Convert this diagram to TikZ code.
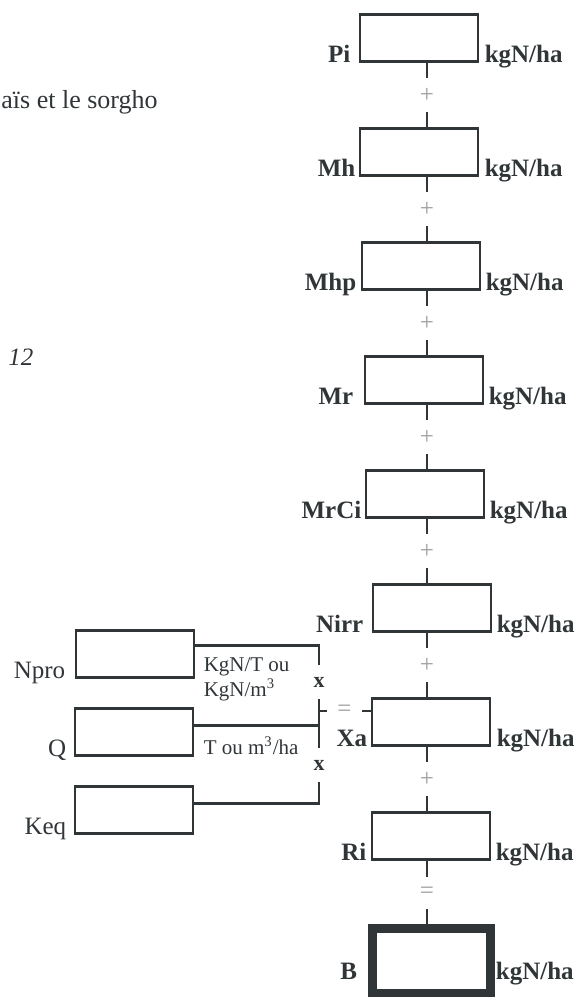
\documentclass[tikz,border=0pt]{standalone}
\usepackage{fontspec}
\setmainfont{Liberation Serif}
\definecolor{encre}{RGB}{48,53,56}
\definecolor{signgray}{gray}{0.62}

\begin{document}
\begin{tikzpicture}[x=0.5pt,y=-0.5pt,color=encre,
  boite/.style={draw,line width=1.35pt,minimum width=59pt,minimum height=23.5pt,inner sep=0pt},
  nom/.style={anchor=base east,inner sep=0pt,font=\fontsize{12.5}{14}\selectfont\bfseries},
  nomg/.style={anchor=base east,inner sep=0pt,font=\fontsize{12.5}{14}\selectfont},
  unite/.style={anchor=base west,inner sep=0pt,font=\fontsize{12.5}{14}\selectfont\bfseries},
  petit/.style={inner sep=0pt,font=\fontsize{10.5}{12.5}\selectfont},
  signe/.style={inner sep=0pt,minimum height=17pt,text=signgray,font=\fontsize{12.5}{14}\selectfont},
  fois/.style={inner sep=0pt,minimum height=17pt,font=\fontsize{11}{13}\selectfont\bfseries},
  lien/.style={line width=1.35pt}]
\useasboundingbox (0,0) rectangle (582,997);
%% texte de la page
\node[anchor=base west,inner sep=0pt,font=\fontsize{13}{15}\selectfont] (titre) at (1,108) {aïs et le sorgho};
\node[anchor=base west,inner sep=0pt,font=\fontsize{12.5}{14}\selectfont\itshape] (num) at (8,365) {12};
%% colonne du bilan
\node[boite] (pi) at (419,38) {};
\node[boite] (mh) at (419,152) {};
\node[boite] (mhp) at (421,266) {};
\node[boite] (mr) at (424,380) {};
\node[boite] (mrci) at (425,494) {};
\node[boite] (nirr) at (432,608) {};
\node[boite] (xa) at (431,722) {};
\node[boite] (ri) at (431,836) {};
\node[boite,line width=4.5pt,minimum height=32.5pt] (bilan) at (431,961) {};
%%
\node[nom] (pi-nom) at ([xshift=-4pt]pi.south west) {Pi};
\node[nom] (mh-nom) at ([xshift=-1.5pt]mh.south west) {Mh};
\node[nom] (mhp-nom) at ([xshift=-2pt]mhp.south west) {Mhp};
\node[nom] (mr-nom) at ([xshift=-5pt]mr.south west) {Mr};
\node[nom] (mrci-nom) at ([xshift=-1.5pt]mrci.south west) {MrCi};
\node[nom] (nirr-nom) at ([xshift=-4pt]nirr.south west) {Nirr};
\node[nom] (xa-nom) at ([xshift=-1.5pt]xa.south west) {Xa};
\node[nom] (ri-nom) at ([xshift=-2pt]ri.south west) {Ri};
\node[nom] (bilan-nom) at ([xshift=-5pt,yshift=9.5pt]bilan.south west) {B};
%%
\node[unite] (pi-unite) at ([xshift=2.5pt]pi.south east) {kgN/ha};
\node[unite] (mh-unite) at ([xshift=2.5pt]mh.south east) {kgN/ha};
\node[unite] (mhp-unite) at ([xshift=2pt]mhp.south east) {kgN/ha};
\node[unite] (mr-unite) at ([xshift=2pt]mr.south east) {kgN/ha};
\node[unite] (mrci-unite) at ([xshift=2pt]mrci.south east) {kgN/ha};
\node[unite] (nirr-unite) at ([xshift=2pt]nirr.south east) {kgN/ha};
\node[unite] (xa-unite) at ([xshift=2.5pt]xa.south east) {kgN/ha};
\node[unite] (ri-unite) at ([xshift=2pt]ri.south east) {kgN/ha};
\node[unite] (bilan-unite) at ([xshift=0.5pt,yshift=9.5pt]bilan.south east) {kgN/ha};
%% signes entre les postes
\node[signe] (op1) at (427,95) {+};
\node[signe] (op2) at (427,209) {+};
\node[signe] (op3) at (427,323) {+};
\node[signe] (op4) at (427,437) {+};
\node[signe] (op5) at (427,551) {+};
\node[signe] (op6) at (427,665) {+};
\node[signe] (op7) at (427,779) {+};
\node[signe,minimum height=16pt] (op8) at (427,893) {=};
\draw[lien] (pi.south -| op1) -- (op1) -- (op1 |- mh.north);
\draw[lien] (mh.south -| op2) -- (op2) -- (op2 |- mhp.north);
\draw[lien] (mhp.south -| op3) -- (op3) -- (op3 |- mr.north);
\draw[lien] (mr.south -| op4) -- (op4) -- (op4 |- mrci.north);
\draw[lien] (mrci.south -| op5) -- (op5) -- (op5 |- nirr.north);
\draw[lien] (nirr.south -| op6) -- (op6) -- (op6 |- xa.north);
\draw[lien] (xa.south -| op7) -- (op7) -- (op7 |- ri.north);
\draw[lien] (ri.south -| op8) -- (op8) -- (op8 |- bilan.north);
%% apport organique Xa
\node[boite] (npro) at (135,654) {};
\node[boite] (q) at (134,732) {};
\node[boite] (keq) at (134,810) {};
\node[nomg] (npro-nom) at ([xshift=-4.5pt]npro.south west) {Npro};
\node[nomg] (q-nom) at ([xshift=-3.5pt]q.south west) {Q};
\node[nomg] (keq-nom) at ([xshift=-3.5pt]keq.south west) {Keq};
\node[petit,anchor=north west,align=left] (npro-unite) at ([xshift=4pt,yshift=-1.75pt]npro.east) {KgN/T ou\\KgN/m\textsuperscript{3}};
\node[petit,anchor=base west] (q-unite) at ([xshift=4.5pt,yshift=1pt]q.south east) {T ou m\textsuperscript{3}/ha};
\node[fois] (x1) at (319,682) {x};
\node[fois] (x2) at (319,765) {x};
\node[signe,minimum height=0pt,minimum width=17.5pt] (egal) at (344.5,711) {=};
\draw[lien] ([yshift=-8pt]npro.north east) -| (x1);
\draw[lien] (x1) -- (x2);
\draw[lien] ([yshift=-9pt]q.north east) -- ([yshift=-9pt]q.north east -| x1);
\draw[lien] (x2) |- ([yshift=-9pt]keq.north east);
\draw[lien] (egal) -- (egal -| x1);
\draw[lien] (egal) -- (egal -| xa.west);
\end{tikzpicture}
\end{document}
